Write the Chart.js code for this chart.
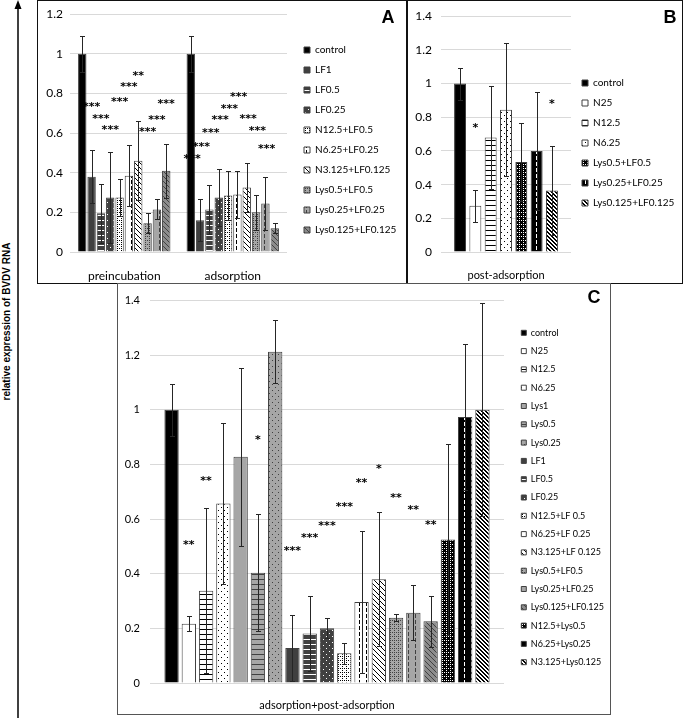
<!DOCTYPE html>
<html>
<head>
<meta charset="utf-8">
<script src="https://cdn.jsdelivr.net/npm/chart.js@4.4.1/dist/chart.umd.min.js"></script>
<style>
  body { margin: 0; background: #fff; width: 685px; height: 718px; position: relative; overflow: hidden; }
  canvas { position: absolute; }
  .box { position: absolute; box-sizing: border-box; pointer-events: none; }
  .tag { position: absolute; font: bold 18px "Liberation Sans", Arial, sans-serif; color: #000; transform: translate(-50%, -50%); }
  #ytitle { position: absolute; left: -114px; top: 316px; width: 240px; line-height: 12px; text-align: center;
            font: bold 10px "Liberation Sans", Arial, sans-serif; color: #000; transform: rotate(-90deg); }
</style>
</head>
<body>
<svg width="685" height="718" style="position:absolute;left:0;top:0">
  <line x1="18" y1="718" x2="18" y2="7" stroke="#000" stroke-width="1.5"/>
  <polygon points="18,0 14.5,9 21.5,9" fill="#000"/>
</svg>
<div id="ytitle">relative expression of BVDV RNA</div>

<canvas id="chartA" width="370" height="283" style="left:37px;top:0"></canvas>
<canvas id="chartB" width="275" height="283" style="left:407px;top:0"></canvas>
<canvas id="chartC" width="493" height="431" style="left:118px;top:284px"></canvas>

<div class="box" style="left:37px;top:0;width:371px;height:284px;border:1.5px solid #111"></div>
<div class="box" style="left:406px;top:0;width:277px;height:284px;border:1.5px solid #111"></div>
<div class="box" style="left:117px;top:283px;width:494px;height:432px;border:1.5px solid #555"></div>
<div class="tag" style="left:388px;top:17px">A</div>
<div class="tag" style="left:670px;top:17px">B</div>
<div class="tag" style="left:594px;top:297px">C</div>

<script>
// Panel A
const catsA = ['preincubation', 'adsorption'];
const namesA = ['control', 'LF1', 'LF0.5', 'LF0.25', 'N12.5+LF0.5', 'N6.25+LF0.25', 'N3.125+LF0.125',
  'Lys0.5+LF0.5', 'Lys0.25+LF0.25', 'Lys0.125+LF0.125'];
const preA = [1, 0.38, 0.195, 0.275, 0.275, 0.385, 0.46, 0.145, 0.215, 0.41];
const preErrA = [0.09, 0.135, 0.15, 0.23, 0.095, 0.155, 0.2, 0.05, 0.05, 0.135];
const adsA = [1, 0.16, 0.215, 0.275, 0.285, 0.29, 0.325, 0.2, 0.245, 0.12];
const adsErrA = [0.09, 0.105, 0.125, 0.145, 0.125, 0.12, 0.125, 0.09, 0.135, 0.025];
const preStarA = ['', '***', '***', '***', '***', '***', '**', '***', '***', '***'];
const preStarYA = [0, 0.748, 0.687, 0.632, 0.773, 0.848, 0.907, 0.622, 0.685, 0.763];
const adsStarA = ['', '***', '***', '***', '***', '***', '***', '***', '***', '***'];
const adsStarYA = [0, 0.485, 0.55, 0.618, 0.682, 0.74, 0.798, 0.69, 0.627, 0.535];
const ticksA = [0, 0.2, 0.4, 0.6, 0.8, 1, 1.2];

// Panel B
const catsB = ['post-adsorption'];
const namesB = ['control', 'N25', 'N12.5', 'N6.25', 'Lys0.5+LF0.5', 'Lys0.25+LF0.25', 'Lys0.125+LF0.125'];
const valsB = [1, 0.275, 0.68, 0.845, 0.535, 0.6, 0.365];
const errB = [0.095, 0.095, 0.305, 0.395, 0.23, 0.35, 0.265];
const starB = ['', '*', '', '', '', '', '*'];
const starYB = [0, 0.758, 0, 0, 0, 0, 0.9];
const ticksB = [0, 0.2, 0.4, 0.6, 0.8, 1, 1.2, 1.4];

// Panel C
const catsC = ['adsorption+post-adsorption'];
const namesC = ['control', 'N25', 'N12.5', 'N6.25', 'Lys1', 'Lys0.5', 'Lys0.25', 'LF1', 'LF0.5', 'LF0.25',
  'N12.5+LF 0.5', 'N6.25+LF 0.25', 'N3.125+LF 0.125', 'Lys0.5+LF0.5', 'Lys0.25+LF0.25', 'Lys0.125+LF0.125',
  'N12.5+Lys0.5', 'N6.25+Lys0.25', 'N3.125+Lys0.125'];
const valsC = [1, 0.217, 0.338, 0.657, 0.828, 0.404, 1.213, 0.128, 0.181, 0.2, 0.109, 0.297, 0.38,
  0.239, 0.257, 0.226, 0.525, 0.974, 1.0];
const errC = [0.096, 0.028, 0.302, 0.296, 0.326, 0.215, 0.115, 0.12, 0.138, 0.037, 0.038, 0.26, 0.245,
  0.012, 0.1, 0.094, 0.35, 0.268, 0.39];
const starC = ['', '**', '**', '', '', '*', '', '***', '***', '***', '***', '**', '*', '**', '**', '**', '', '', ''];
const starYC = [0, 0.519, 0.754, 0, 0, 0.903, 0, 0.497, 0.544, 0.589, 0.658, 0.745, 0.798, 0.69, 0.646, 0.59, 0, 0, 0];
const ticksC = [0, 0.2, 0.4, 0.6, 0.8, 1, 1.2, 1.4];

// fills (pattern, background, foreground)
const BLACK = '#000000', DARK = '#404040', GRAY = '#a6a6a6', MID = '#8c8c8c', WHITE = '#ffffff';
const fillA = [['solid', BLACK], ['solid', DARK], ['hlines', DARK, WHITE], ['dots', DARK, WHITE],
  ['dotgrid', WHITE, BLACK], ['vdash', WHITE, BLACK], ['diag', WHITE, BLACK],
  ['dotgrid', GRAY, DARK], ['vdash', GRAY, DARK], ['diag', MID, DARK]];
const fillB = [['solid', BLACK], ['solid', WHITE], ['hlines', WHITE, BLACK], ['dots', WHITE, BLACK],
  ['dotgrid', BLACK, WHITE], ['vdash', BLACK, WHITE], ['dense', WHITE, BLACK]];
const fillC = [['solid', BLACK], ['solid', WHITE], ['hlines', WHITE, BLACK], ['dots', WHITE, BLACK],
  ['solid', GRAY], ['hlines', GRAY, DARK], ['dots', GRAY, DARK],
  ['solid', DARK], ['hlines', DARK, WHITE], ['dots', DARK, WHITE],
  ['dotgrid', WHITE, BLACK], ['vdash', WHITE, BLACK], ['diag', WHITE, BLACK],
  ['dotgrid', GRAY, DARK], ['vdash', GRAY, DARK], ['diag', MID, DARK],
  ['dotgrid', BLACK, WHITE], ['vdash', BLACK, WHITE], ['dense', WHITE, BLACK]];

Chart.defaults.font.family = 'Lato, "Open Sans", sans-serif';
Chart.defaults.color = '#000';

function tile(kind, bg, fg) {
  if (kind === 'solid') return bg;
  const sizes = { hlines: [4, 5], dots: [6, 6], dotgrid: [4, 4], vdash: [7, 6], diag: [5, 5], dense: [4, 4] };
  const [w, h] = sizes[kind];
  const c = document.createElement('canvas');
  c.width = w; c.height = h;
  const g = c.getContext('2d');
  g.fillStyle = bg; g.fillRect(0, 0, w, h);
  g.fillStyle = fg;
  if (kind === 'hlines') g.fillRect(0, 0, w, 1);
  if (kind === 'dots') { g.fillRect(1, 1, 1, 1); g.fillRect(4, 4, 1, 1); }
  if (kind === 'dotgrid') { g.fillRect(0, 0, 1, 1); g.fillRect(2, 0, 1, 1); g.fillRect(0, 2, 1, 1); }
  if (kind === 'vdash') g.fillRect(3, 0, 1, 4);
  if (kind === 'diag') for (let i = 0; i < w; i++) g.fillRect(i, i, 1, 1);
  if (kind === 'dense') for (let i = 0; i < w; i++) { g.fillRect(i, i, 1, 1); g.fillRect((i + 1) % w, i, 1, 1); }
  return g.createPattern(c, 'repeat');
}

// put the legend where the reference has it
function legendAt(left, top, width) {
  return {
    id: 'legendAt',
    beforeLayout(chart) {
      const lg = chart.legend;
      if (!lg || lg._fixed) return;
      const fit = lg.fit;
      lg.fit = function () { fit.call(this); this.width = width; };
      lg._fixed = true;
    },
    afterLayout(chart) {
      const lg = chart.legend, h = lg.bottom - lg.top;
      lg.left = left; lg.right = left + width;
      lg.top = top; lg.bottom = top + h;
    }
  };
}

const errorBars = {
  id: 'errorBars',
  afterDatasetsDraw(chart) {
    const { ctx } = chart, y = chart.scales.y;
    ctx.save();
    ctx.strokeStyle = '#262626';
    ctx.lineWidth = 1;
    chart.data.datasets.forEach((ds, i) => {
      chart.getDatasetMeta(i).data.forEach((bar, j) => {
        const v = ds.data[j], e = ds.err[j];
        const x = Math.round(bar.x) + 0.5;
        const y1 = Math.round(y.getPixelForValue(v + e)) + 0.5;
        const y2 = Math.round(y.getPixelForValue(Math.max(v - e, 0))) + 0.5;
        ctx.beginPath();
        ctx.moveTo(x, y1); ctx.lineTo(x, y2);
        ctx.moveTo(x - 2.5, y1); ctx.lineTo(x + 2.5, y1);
        ctx.moveTo(x - 2.5, y2); ctx.lineTo(x + 2.5, y2);
        ctx.stroke();
      });
    });
    ctx.restore();
  }
};

function starMarks(shift) {
  return {
    id: 'starMarks',
    afterDatasetsDraw(chart) {
      const { ctx } = chart, y = chart.scales.y;
      ctx.save();
      ctx.font = 'bold 11px "DejaVu Sans", sans-serif';
      ctx.fillStyle = '#000';
      ctx.textAlign = 'center';
      ctx.textBaseline = 'alphabetic';
      chart.data.datasets.forEach((ds, i) => {
        chart.getDatasetMeta(i).data.forEach((bar, j) => {
          const s = ds.stars[j];
          if (!s) return;
          ctx.fillText(s, bar.x + (shift[j] || 0), y.getPixelForValue(ds.starY[j]) + 6.5);
        });
      });
      ctx.restore();
    }
  };
}

function barChart(id, c) {
  return new Chart(document.getElementById(id), {
    type: 'bar',
    data: { labels: c.labels, datasets: c.datasets },
    options: {
      responsive: false,
      animation: false,
      events: [],
      layout: { padding: { top: c.top, left: 0, right: 0, bottom: 0 } },
      scales: {
        x: {
          grid: { display: false },
          border: { display: false },
          ticks: { font: { size: c.xFont }, color: '#000', padding: c.xPad },
          afterFit: s => { s.height = c.xH; }
        },
        y: {
          min: 0,
          max: c.ticks[c.ticks.length - 1],
          afterBuildTicks: s => { s.ticks = c.ticks.map(v => ({ value: v })); },
          ticks: { callback: v => String(v), font: { size: c.yFont }, color: '#000', padding: c.yPad },
          grid: { color: '#d9d9d9', drawTicks: false },
          border: { display: false },
          afterFit: s => { s.width = c.yW; }
        }
      },
      plugins: {
        legend: {
          position: 'right',
          align: 'start',
          labels: { boxWidth: c.box, boxHeight: c.box, padding: c.lPad, font: { size: c.lFont }, color: '#000' }
        },
        tooltip: { enabled: false }
      }
    },
    plugins: [legendAt(c.lLeft, c.lTop, c.lWidth), errorBars, starMarks(c.shift)]
  });
}

function sets(names, fills, data, err, stars, starY, cp, bp) {
  return names.map((n, i) => ({
    label: n,
    data: data(i),
    err: err(i),
    stars: stars(i),
    starY: starY(i),
    backgroundColor: tile(...fills[i]),
    borderColor: '#404040',
    borderWidth: 1,
    categoryPercentage: cp,
    barPercentage: bp
  }));
}

barChart('chartA', {
  labels: catsA,
  datasets: sets(namesA, fillA,
    i => [preA[i], adsA[i]], i => [preErrA[i], adsErrA[i]],
    i => [preStarA[i], adsStarA[i]], i => [preStarYA[i], adsStarYA[i]], 0.86, 0.9),
  ticks: ticksA, top: 13, yW: 33, xH: 31, yPad: 7, xPad: 9, yFont: 12, xFont: 12,
  box: 6, lPad: 10, lFont: 10, lLeft: 257, lTop: 35, lWidth: 120, shift: [0, -8]
});

barChart('chartB', {
  labels: catsB,
  datasets: sets(namesB, fillB,
    i => [valsB[i]], i => [errB[i]], i => [starB[i]], i => [starYB[i]], 0.825, 0.78),
  ticks: ticksB, top: 13, yW: 34, xH: 31, yPad: 9, xPad: 9, yFont: 12, xFont: 11,
  box: 6, lPad: 10, lFont: 10, lLeft: 165, lTop: 68, lWidth: 111, shift: [0]
});

barChart('chartC', {
  labels: catsC,
  datasets: sets(namesC, fillC,
    i => [valsC[i]], i => [errC[i]], i => [starC[i]], i => [starYC[i]], 0.927, 0.83),
  ticks: ticksC, top: 12, yW: 32, xH: 32, yPad: 10, xPad: 8, yFont: 11, xFont: 11,
  box: 5, lPad: 9.3, lFont: 9, lLeft: 394, lTop: 35, lWidth: 107, shift: [0]
});
</script>
</body>
</html>
